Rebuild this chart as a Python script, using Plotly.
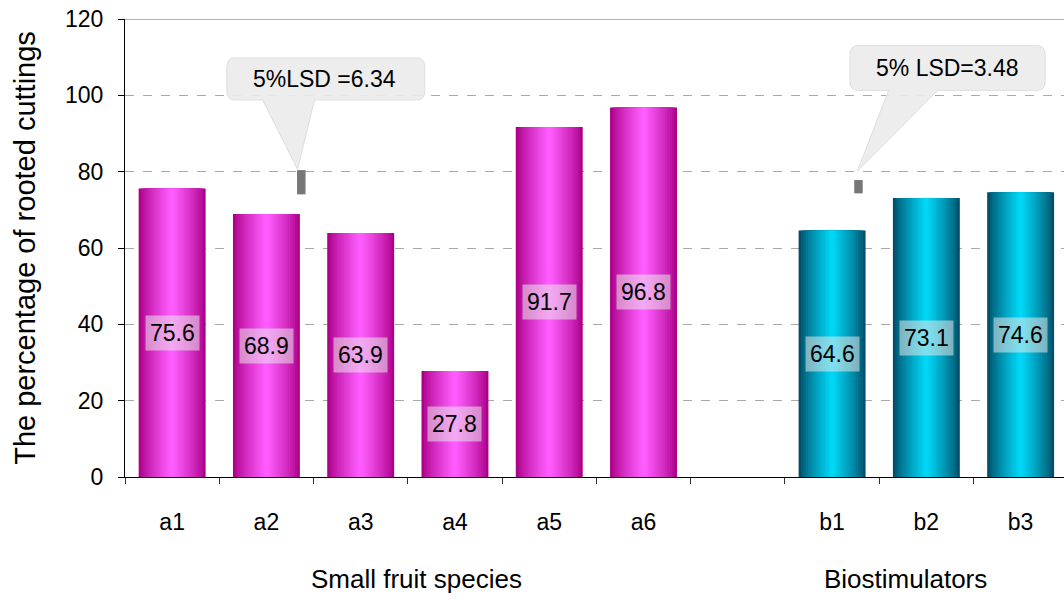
import plotly.graph_objects as go

# Data
species = ["a1", "a2", "a3", "a4", "a5", "a6"]
species_vals = [75.6, 68.9, 63.9, 27.8, 91.7, 96.8]
biostim = ["b1", "b2", "b3"]
biostim_vals = [64.6, 73.1, 74.6]
lsd_species = 6.34
lsd_biostim = 3.48

species_x = list(range(len(species)))
biostim_x = [len(species) + 1 + i for i in range(len(biostim))]

FONT = "Liberation Sans, Arial, sans-serif"
BAR_W = 0.71
N_LAYERS = 14


def lerp(c1, c2, t):
    return "rgb(%d,%d,%d)" % tuple(round(a + (b - a) * t) for a, b in zip(c1, c2))


def cylinder(fig, xs, vals, edge, center):
    # stacked overlay bars of shrinking width give a cylindrical shading
    for k in range(N_LAYERS):
        t = k / (N_LAYERS - 1)
        w = BAR_W * (1 - 0.93 * t)
        fig.add_trace(go.Bar(
            x=xs, y=vals, width=w,
            marker=dict(color=lerp(edge, center, t ** 0.8), line=dict(width=0)),
            hoverinfo="skip", showlegend=False,
        ))


fig = go.Figure()
cylinder(fig, species_x, species_vals, (172, 0, 136), (255, 92, 255))
cylinder(fig, biostim_x, biostim_vals, (0, 78, 104), (0, 214, 245))

annotations = []
for x, v in zip(species_x + biostim_x, species_vals + biostim_vals):
    annotations.append(dict(
        x=x, y=v / 2, text="%.1f" % v, showarrow=False,
        font=dict(family=FONT, size=23, color="black"),
        bgcolor="rgba(232,232,232,0.55)", borderpad=4,
    ))

# group titles
annotations += [
    dict(x=2.59, y=-0.222, xref="x", yref="paper", yanchor="middle",
         text="Small fruit species", showarrow=False,
         font=dict(family=FONT, size=26, color="black")),
    dict(x=7.78, y=-0.222, xref="x", yref="paper", yanchor="middle",
         text="Biostimulators", showarrow=False,
         font=dict(family=FONT, size=26, color="black")),
]

shapes = []
# LSD markers
for xc, top, lsd in [(1.37, 80.4, lsd_species), (7.28, 77.8, lsd_biostim)]:
    shapes.append(dict(type="rect", x0=xc - 0.045, x1=xc + 0.045, y0=top - lsd, y1=top,
                       fillcolor="#777777", line=dict(width=0), layer="above"))


def callout(x0, x1, y0, y1, bx0, bx1, tx, ty, r=0.08, ry=2.5):
    path = (f"M {x0 + r},{y1} L {x1 - r},{y1} Q {x1},{y1} {x1},{y1 - ry} "
            f"L {x1},{y0 + ry} Q {x1},{y0} {x1 - r},{y0} "
            f"L {bx1},{y0} L {tx},{ty} L {bx0},{y0} "
            f"L {x0 + r},{y0} Q {x0},{y0} {x0},{y0 + ry} "
            f"L {x0},{y1 - ry} Q {x0},{y1} {x0 + r},{y1} Z")
    return dict(type="path", path=path, fillcolor="rgba(236,236,236,0.92)",
                line=dict(color="#dddddd", width=1), layer="above")


shapes.append(callout(0.58, 2.68, 98.8, 109.8, 0.96, 1.51, 1.33, 80.6))
shapes.append(callout(7.19, 9.26, 101.3, 113.0, 7.6, 8.12, 7.27, 80.2))

annotations += [
    dict(x=1.62, y=104.4, text="5%LSD =6.34", showarrow=False,
         font=dict(family=FONT, size=23, color="black")),
    dict(x=8.22, y=107.2, text="5% LSD=3.48", showarrow=False,
         font=dict(family=FONT, size=23, color="black")),
]

# plot top border
shapes.append(dict(type="line", xref="paper", x0=0, x1=1, y0=120, y1=120,
                   line=dict(color="#999999", width=1.5), layer="above"))

fig.update_layout(
    width=1064, height=599,
    margin=dict(l=125, r=0, t=19, b=122),
    paper_bgcolor="white", plot_bgcolor="white",
    barmode="overlay",
    annotations=annotations, shapes=shapes,
    xaxis=dict(
        range=[-0.5, 9.46],
        tickvals=species_x + biostim_x, ticktext=species + biostim,
        ticks="", showgrid=False, zeroline=False,
        showline=True, linecolor="black", linewidth=1,
        tickfont=dict(family=FONT, size=23, color="black"),
        ticklabelstandoff=24,
        minor=dict(tick0=-0.5, dtick=1, ticks="outside", ticklen=6,
                   tickcolor="#333333", showgrid=False),
    ),
    yaxis=dict(
        range=[0, 120], tickvals=[0, 20, 40, 60, 80, 100, 120],
        ticks="outside", ticklen=6, tickcolor="black",
        showline=True, linecolor="black", linewidth=1,
        showgrid=True, gridcolor="#aaaaaa", griddash="dash", gridwidth=1,
        zeroline=False, ticklabelstandoff=10,
        tickfont=dict(family=FONT, size=23, color="black"),
        title=dict(text="The percentage of rooted cuttings",
                   font=dict(family=FONT, size=29, color="black"), standoff=20),
    ),
)

fig.write_html("out.html")
